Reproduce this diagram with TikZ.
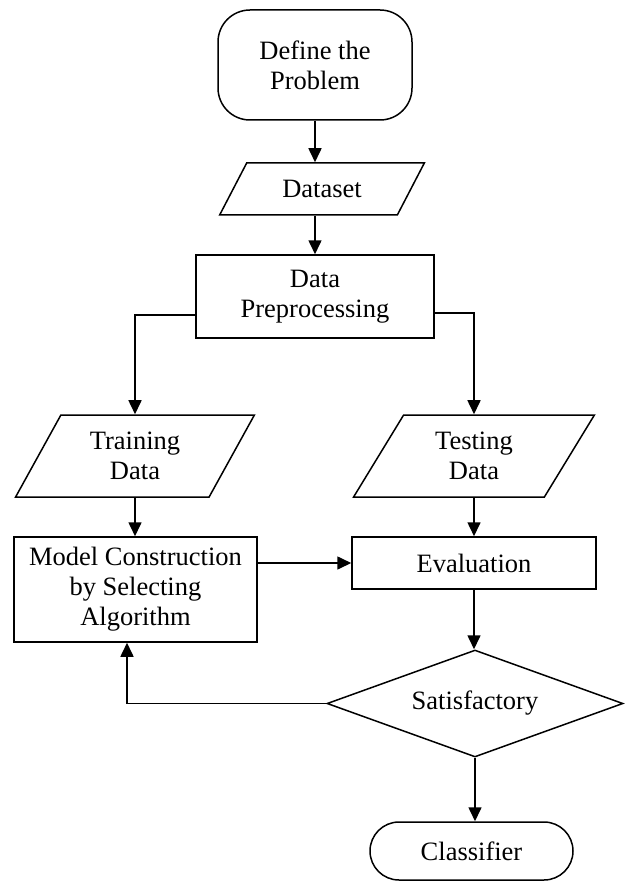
\documentclass[tikz,border=0pt]{standalone}
\usepackage{fontspec}
\setmainfont{Liberation Serif}
\usetikzlibrary{shapes.geometric,arrows.meta}

\begin{document}
\begin{tikzpicture}[x=1pt,y=-1pt,
        every node/.style={font=\fontsize{26.5}{30}\selectfont, align=center, line width=1.5pt},
        term/.style={draw, rounded corners=32pt, inner sep=0pt},
        io/.style={draw, trapezium, trapezium stretches=true, inner sep=0pt},
        proc/.style={draw, rectangle, inner sep=0pt},
        decide/.style={draw, diamond, aspect=2.77, inner sep=0pt},
        flow/.style={line width=1.6pt, -{Triangle[length=14pt,width=13pt]}}]
        \useasboundingbox (0,0) rectangle (625,885);
        \node[term, minimum width=194pt, minimum height=110pt] (define) at (315,65) {Define the\\Problem};
        \node[io, trapezium left angle=51, trapezium right angle=129, minimum width=205pt, minimum height=52pt] (dataset) at (322,189) {Dataset};
        \node[proc, minimum width=238pt, minimum height=83pt] (prep) at (315,296.5) {Data\\Preprocessing};
        \node[io, trapezium left angle=60, trapezium right angle=120, minimum width=239pt, minimum height=82pt] (train) at (135,456) {Training\\Data};
        \node[io, trapezium left angle=60, trapezium right angle=120, minimum width=241pt, minimum height=82pt] (test) at (474,456) {Testing\\Data};
        \node[proc, minimum width=243pt, minimum height=105pt] (model) at (135.5,589.5) {Model Construction\\by Selecting\\Algorithm};
        \node[proc, minimum width=244pt, minimum height=52pt] (eval) at (474,563) {Evaluation};
        \node[decide, minimum width=296pt, minimum height=107pt] (sat) at (475,703.5) {Satisfactory};
        \node[term, rounded corners=29pt, minimum width=203pt, minimum height=58pt] (cls) at (471.5,851) {Classifier};
        \draw[flow] (define.south) -- (define.south |- dataset.north);
        \draw[flow] (dataset.south -| define) -- (prep.north);
        \draw[flow] ([yshift=-18.5pt]prep.west) -| (train.north);
        \draw[flow] ([yshift=-16.5pt]prep.east) -| (test.north);
        \draw[flow] (train.south) -- (train.south |- model.north);
        \draw[flow] (test.south) -- (test.south |- eval.north);
        \draw[flow] (model.east |- eval) -- (eval.west);
        \draw[flow] (eval.south) -- (eval.south |- sat.north);
        \draw[flow] (sat.south) -- (sat.south |- cls.north);
        \draw[flow] (sat.west) -| ([xshift=-8.5pt]model.south);
    \end{tikzpicture}
\end{document}
